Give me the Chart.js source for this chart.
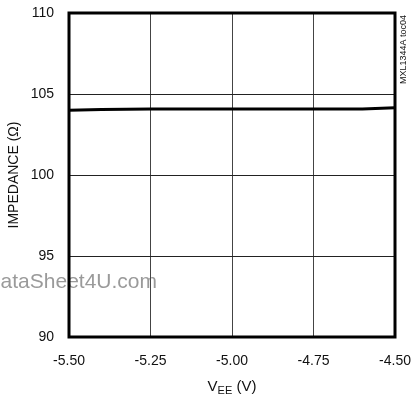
<!DOCTYPE html>
<html>
<head>
<meta charset="utf-8">
<script src="https://cdn.jsdelivr.net/npm/chart.js@4/dist/chart.umd.min.js"></script>
<style>
  html, body { margin: 0; padding: 0; background: #fff; }
  #wrap { width: 411px; height: 400px; position: relative; }
</style>
</head>
<body>
<div id="wrap"><canvas id="impChart"></canvas></div>
<script>
// impedance vs supply voltage
const vee = [-5.50, -5.40, -5.25, -5.00, -4.75, -4.60, -4.50];
const impedance = [104.0, 104.05, 104.08, 104.08, 104.08, 104.08, 104.15];
const xTicks = [-5.50, -5.25, -5.00, -4.75, -4.50];
const yTicks = [90, 95, 100, 105, 110];

const FONT = "'Liberation Sans Narrow', 'Liberation Sans', Arial, sans-serif";

// watermark sits under the grid
const watermark = {
  id: 'watermark',
  beforeDraw(chart) {
    const ctx = chart.ctx;
    ctx.save();
    ctx.font = '21px ' + FONT;
    ctx.fillStyle = '#9a9a9a';
    ctx.textAlign = 'right';
    ctx.textBaseline = 'alphabetic';
    ctx.fillText('DataSheet4U.com', 157, 288);
    ctx.restore();
  }
};

// frame, x title with subscript, side label
const extras = {
  id: 'extras',
  afterDraw(chart) {
    const { ctx, chartArea: a } = chart;
    ctx.save();
    ctx.strokeStyle = '#000';
    ctx.lineWidth = 3;
    ctx.strokeRect(a.left, a.top, a.right - a.left, a.bottom - a.top);

    // x axis title: VEE (V)
    ctx.fillStyle = '#111';
    ctx.textBaseline = 'alphabetic';
    ctx.font = '15px ' + FONT;
    const cx = (a.left + a.right) / 2;
    const w1 = ctx.measureText('V').width;
    ctx.font = '11px ' + FONT;
    const w2 = ctx.measureText('EE').width;
    ctx.font = '15px ' + FONT;
    const w3 = ctx.measureText(' (V)').width;
    let x = cx - (w1 + w2 + w3) / 2;
    ctx.textAlign = 'left';
    ctx.fillText('V', x, 391);
    ctx.font = '11px ' + FONT;
    ctx.fillText('EE', x + w1, 394);
    ctx.font = '15px ' + FONT;
    ctx.fillText(' (V)', x + w1 + w2, 391);

    // side code
    ctx.save();
    ctx.translate(404, 15);
    ctx.rotate(-Math.PI / 2);
    ctx.font = '9px ' + FONT;
    ctx.textAlign = 'right';
    ctx.textBaseline = 'middle';
    ctx.fillText('MXL1344A toc04', 0, 0);
    ctx.restore();
    ctx.restore();
  }
};

new Chart(document.getElementById('impChart'), {
  type: 'scatter',
  data: {
    datasets: [{
      data: vee.map((v, i) => ({ x: v, y: impedance[i] })),
      showLine: true,
      borderColor: '#000',
      borderWidth: 3,
      pointRadius: 0,
      tension: 0
    }]
  },
  options: {
    responsive: true,
    maintainAspectRatio: false,
    animation: false,
    layout: { padding: { top: 13, right: 16, left: 0, bottom: 0 } },
    plugins: { legend: { display: false }, tooltip: { enabled: false } },
    scales: {
      x: {
        type: 'linear',
        min: -5.5,
        max: -4.5,
        afterBuildTicks: (axis) => { axis.ticks = xTicks.map(v => ({ value: v })); },
        afterFit: (axis) => {
          axis.height = 63;
          axis.paddingLeft = 0;
          axis.paddingRight = 0;
        },
        ticks: {
          color: '#111',
          font: { family: FONT, size: 14 },
          padding: 16,
          maxRotation: 0,
          callback: (v) => v.toFixed(2)
        },
        grid: { color: '#444', lineWidth: 1, drawTicks: false },
        border: { display: false }
      },
      y: {
        min: 90,
        max: 110,
        afterBuildTicks: (axis) => { axis.ticks = yTicks.map(v => ({ value: v })); },
        afterFit: (axis) => {
          axis.width = 69;
          axis.paddingTop = 0;
          axis.paddingBottom = 0;
        },
        ticks: {
          color: '#111',
          font: { family: FONT, size: 14 },
          padding: 15
        },
        title: {
          display: true,
          text: 'IMPEDANCE (Ω)',
          color: '#111',
          font: { family: FONT, size: 14 },
          padding: { top: 6, bottom: 0 }
        },
        grid: { color: '#222', lineWidth: 1, drawTicks: false },
        border: { display: false }
      }
    }
  },
  plugins: [watermark, extras]
});
</script>
</body>
</html>
